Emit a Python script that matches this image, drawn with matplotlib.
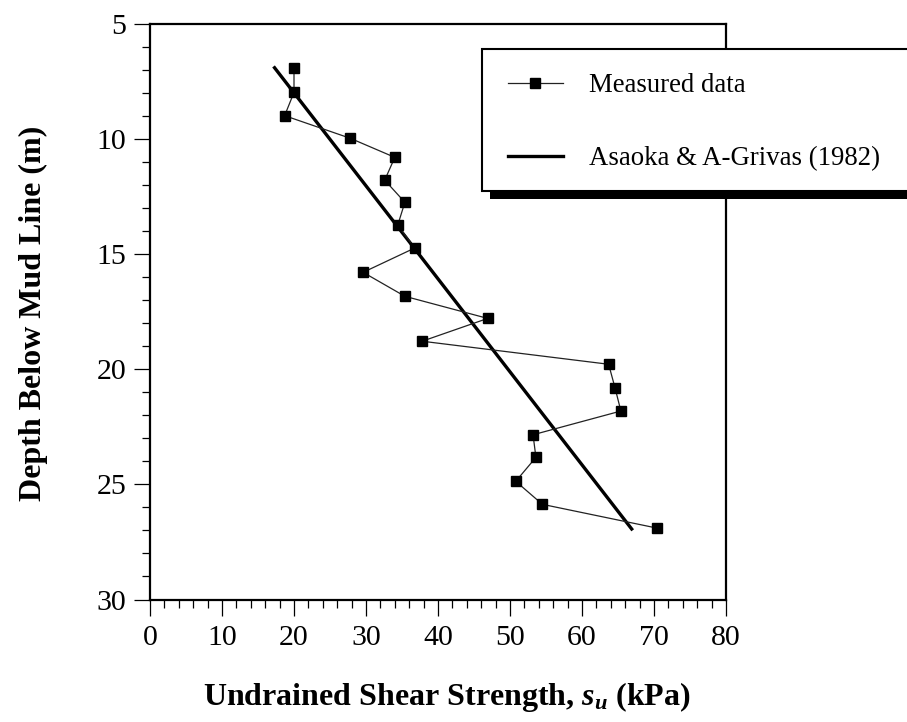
import matplotlib
matplotlib.use("Agg")
import matplotlib.pyplot as plt
from matplotlib.patches import Rectangle
from matplotlib.ticker import MultipleLocator

plt.rcParams['font.family'] = ['Liberation Serif', 'DejaVu Serif']
plt.rcParams['mathtext.fontset'] = 'custom'
plt.rcParams['mathtext.it'] = 'Liberation Serif:italic:bold'
plt.rcParams['mathtext.rm'] = 'Liberation Serif:bold'

# Measured data
strength = [20.0, 20.0, 18.7, 27.8, 34.0, 32.6, 35.4, 34.4, 36.8, 29.6, 35.4,
            46.9, 37.8, 63.7, 64.6, 65.4, 53.2, 53.6, 50.8, 54.5, 70.4]
depth = [6.94, 7.99, 9.0, 9.98, 10.81, 11.8, 12.76, 13.76, 14.74, 15.8, 16.84,
         17.8, 18.79, 19.79, 20.83, 21.82, 22.85, 23.83, 24.87, 25.87, 26.9]

# Asaoka & A-Grivas (1982) line
fit_strength = [17.3, 66.9]
fit_depth = [6.92, 26.94]

labels = ["Measured data", "Asaoka & A-Grivas (1982)"]

W, H = 907, 722
fig = plt.figure(figsize=(W / 100, H / 100), dpi=100)
ax = fig.add_axes([150 / W, 1 - 599.5 / H, 576 / W, 576 / H])

l1, = ax.plot(strength, depth, color='#222222', lw=0.9, marker='s', ms=7.2,
              mfc='black', mec='black', zorder=3)
l2, = ax.plot(fit_strength, fit_depth, color='black', lw=2.4, zorder=2)

ax.set_xlim(0, 80)
ax.set_ylim(30, 5)
ax.xaxis.set_major_locator(MultipleLocator(10))
ax.xaxis.set_minor_locator(MultipleLocator(2))
ax.yaxis.set_major_locator(MultipleLocator(5))
ax.yaxis.set_minor_locator(MultipleLocator(1))
ax.tick_params(which='both', direction='out', width=0.9, colors='black',
               labelsize=21.5)
ax.tick_params(which='major', length=11.5)
ax.tick_params(which='minor', length=5.8)
ax.tick_params(axis='x', pad=7)
ax.tick_params(axis='y', pad=5.5)
for s in ax.spines.values():
    s.set_linewidth(1.6)

fig.text(447 / W, 1 - 697 / H, r"Undrained Shear Strength, $s_u$ (kPa)",
         ha='center', va='center', fontsize=23, fontweight='bold')
fig.text(33 / W, 1 - 313 / H, "Depth Below Mud Line (m)", rotation=90,
         ha='center', va='center', fontsize=23, fontweight='bold')

# legend frame with shadow
shadow = Rectangle((490 / W, 1 - 199 / H), 600 / W, 143 / H,
                   transform=fig.transFigure, facecolor='black',
                   edgecolor='none', zorder=3)
box = Rectangle((482 / W, 1 - 191 / H), 600 / W, 142 / H,
                transform=fig.transFigure, facecolor='white',
                edgecolor='black', lw=1.5, zorder=4)
fig.patches.extend([shadow, box])

leg = fig.legend([l1, l2], labels, loc='upper left',
                 bbox_to_anchor=(508 / W, 1 - 73 / H),
                 frameon=False, borderpad=0, borderaxespad=0,
                 fontsize=19.3, handlelength=2.05, handletextpad=0.97,
                 labelspacing=1.8, numpoints=1)
leg.set_zorder(5)

fig.savefig("out.png", dpi=100)
